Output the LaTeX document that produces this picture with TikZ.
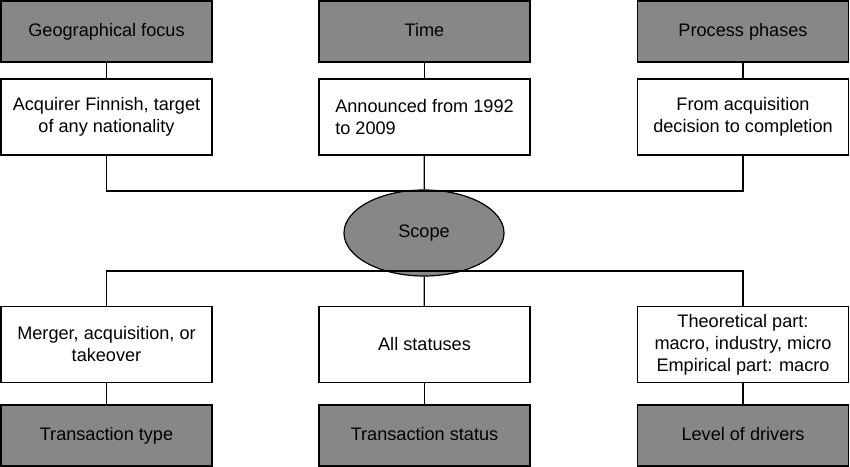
\documentclass[tikz,border=0pt]{standalone}
\usepackage{fontspec}
\setmainfont{Liberation Sans}
\usetikzlibrary{shapes.geometric}
\begin{document}
\begin{tikzpicture}[x=0.75pt,y=-0.75pt,
  box/.style={draw,line width=0.9pt,minimum width=211*0.75pt,align=center,font=\fontsize{13.6}{16.5}\selectfont,inner sep=0pt},
  head/.style={box,fill=gray!95!black!90,minimum height=61*0.75pt,text height=10pt,text depth=3pt},
  info/.style={box,fill=white,minimum height=76*0.75pt},
  ln/.style={line width=0.9pt}]
\useasboundingbox (0,0) rectangle (850,467);
\node[head] (g1) at (106.5,31.5) {Geographical focus};
\node[head] (g2) at (424.5,31.5) {Time};
\node[head] (g3) at (743,31.5) {Process phases};
\node[info] (w1) at (106.5,117) {Acquirer Finnish, target\\of any nationality};
\node[info,align=left] (w2) at (424.5,117) {Announced from 1992\\to 2009};
\node[info] (w3) at (743,117) {From acquisition\\decision to completion};
\node[info] (w4) at (106.5,344.5) {Merger, acquisition, or\\takeover};
\node[info] (w5) at (424.5,344.5) {All statuses};
\node[info] (w6) at (743,344.5) {Theoretical part:\\macro, industry, micro\\Empirical part: macro};
\node[head] (g4) at (106.5,435.5) {Transaction type};
\node[head] (g5) at (424.5,435.5) {Transaction status};
\node[head] (g6) at (743,435.5) {Level of drivers};
\node[ellipse,draw,line width=0.9pt,fill=gray!95!black!90,minimum width=160*0.75pt,minimum height=86*0.75pt,font=\fontsize{13.6}{16.5}\selectfont] (s) at (424,233) {Scope};
\foreach \a/\b in {g1/w1,g2/w2,g3/w3,w4/g4,w5/g5,w6/g6} \draw[ln] (\a) -- (\b);
\draw[ln] (w1.south) -- (w1.south |- 0,191) -- (w3.south |- 0,191) -- (w3.south);
\draw[ln] (w2) -- (s);
\draw[ln] (w4.north) -- (w4.north |- 0,271) -- (w6.north |- 0,271) -- (w6.north);
\draw[ln] (s) -- (w5);
\end{tikzpicture}
\end{document}
